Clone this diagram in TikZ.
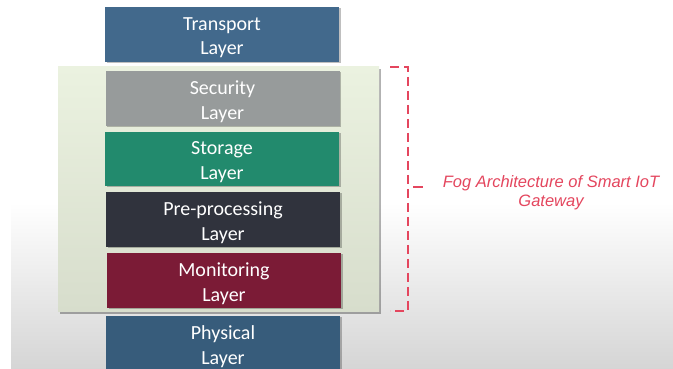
\documentclass[tikz,border=0pt]{standalone}
\usepackage{fontspec}
\setmainfont{Carlito}
\newfontfamily\notefont{Liberation Sans}
\definecolor{transportblue}{HTML}{42698C}
\definecolor{securitygray}{HTML}{979B9B}
\definecolor{storagegreen}{HTML}{228A6D}
\definecolor{preprocdark}{HTML}{30333D}
\definecolor{monitorred}{HTML}{7B1B36}
\definecolor{physicalblue}{HTML}{375C7B}
\definecolor{paneltop}{HTML}{EBF2E0}
\definecolor{panelbottom}{HTML}{D7DDCC}
\definecolor{slidebottom}{HTML}{D5D5D5}
\definecolor{bracketred}{HTML}{E4465E}
\begin{document}
\begin{tikzpicture}[x=1pt,y=1pt,
  layerbox/.style={minimum width=234pt, minimum height=55pt, inner sep=0pt,
    preaction={fill=black, opacity=0.25, transform canvas={xshift=1.5pt,yshift=-1.5pt}}},
  layertext/.style={text=white, align=center, inner sep=0pt,
    font=\fontsize{20}{24.5}\selectfont},
  bracket/.style={draw=bracketred, line width=2pt, dash pattern=on 9pt off 5pt},
  notetext/.style={text=bracketred, align=center,
    font=\notefont\itshape\fontsize{16.5}{19}\selectfont}]
\useasboundingbox (0,0) rectangle (673,369);
\clip (0,0) rectangle (673,369);
% slide background: white top, grey fade towards the bottom
\fill[white] (0,0) rectangle (673,369);
\shade[top color=white, bottom color=slidebottom] (11,0) rectangle (673,166);
% light green frame holding the fog layers
\fill[black, opacity=0.3] (60,55) rectangle (381,300);
\shade[top color=paneltop, bottom color=panelbottom] (58,57) rectangle (379,302);
% layer boxes
\node[layerbox, fill=transportblue] (transport) at (222,334.5) {};
\node[layerbox, fill=securitygray]  (security)  at (222.5,270.5) {};
\node[layerbox, fill=storagegreen, minimum height=54pt] (storage) at (222,210) {};
\node[layerbox, fill=preprocdark]   (preproc)   at (223,149.5) {};
\node[layerbox, fill=monitorred]    (monitor)   at (224,88.5) {};
\node[layerbox, fill=physicalblue]  (physical)  at (223,25.5) {};
% layer names, set a little below the geometric centre
\node[layertext] (transport-t) at ([yshift=-3pt]transport.center) {Transport\\Layer};
\node[layertext] (security-t)  at ([yshift=-3pt]security.center) {Security\\Layer};
\node[layertext] (storage-t)   at ([yshift=-3pt]storage.center) {Storage\\Layer};
\node[layertext] (preproc-t)   at ([yshift=-3pt]preproc.center) {Pre-processing\\Layer};
\node[layertext] (monitor-t)   at ([yshift=-3pt]monitor.center) {Monitoring\\Layer};
\node[layertext] (physical-t)  at ([yshift=-3pt]physical.center) {Physical\\Layer};
% dashed bracket around the fog layers
\coordinate (btop) at (390,302);
\coordinate (bbot) at (390,58);
\draw[bracket] (btop) -- (408,302) -- (408,58) -- (bbot);
\draw[draw=bracketred, line width=2pt] (413,182) -- (423,182);
\node[notetext] (note) at (551,176.5) {Fog Architecture of Smart IoT\\Gateway};
\end{tikzpicture}
\end{document}
